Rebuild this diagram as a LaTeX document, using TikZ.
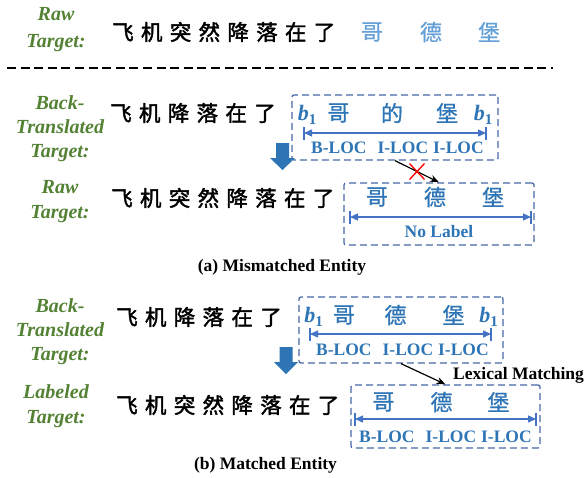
\documentclass[tikz,border=0pt]{standalone}
\usepackage{fontspec}
\setmainfont{Liberation Serif}
\newfontfamily\cjk[FakeBold=0.9]{Noto Sans CJK SC}
\newfontfamily\cjkb[FakeBold=1.8]{Noto Sans CJK SC}
\usetikzlibrary{arrows.meta}
\definecolor{lgreen}{RGB}{84,130,53}
\definecolor{eblue}{RGB}{46,117,182}
\definecolor{lblue}{RGB}{101,160,216}
\definecolor{boxblue}{RGB}{72,104,168}
\definecolor{ablue}{RGB}{68,114,196}
\definecolor{dblue}{RGB}{46,117,182}
\newcommand\gp{\hspace{7.3pt}}
\newcommand\bone{{\fontsize{22}{24}\selectfont\bfseries\itshape b}\raisebox{-4pt}{\fontsize{15}{16}\selectfont\bfseries 1}}
\tikzset{
  lab/.style={font=\fontsize{20}{#1}\selectfont\bfseries\itshape, text=lgreen, align=center, inner sep=0pt},
  zh/.style={font=\fontsize{21.5}{24}\cjkb, anchor=west, inner sep=0pt},
  ent/.style={font=\fontsize{22}{24}\cjk, text=eblue, inner sep=0pt},
  entl/.style={font=\fontsize{22}{24}\cjk, text=lblue, inner sep=0pt},
  bsym/.style={text=eblue, inner sep=0pt},
  ebox/.style={draw=boxblue, dash pattern=on 7pt off 4pt, line width=1.3pt, rounded corners=2pt, inner sep=0pt},
  tag/.style={font=\fontsize{17.5}{20}\selectfont\bfseries, text=eblue, inner sep=0pt},
  spanline/.style={draw=ablue, line width=1.3pt, {Triangle[length=8pt,width=7pt]}-{Triangle[length=8pt,width=7pt]}},
  spanbar/.style={draw=ablue, line width=1.2pt},
  capt/.style={font=\fontsize{17.5}{20}\selectfont\bfseries, inner sep=0pt},
  conn/.style={draw=black, line width=1.2pt, -{Stealth[length=9pt,width=7pt]}},
  bigdown/.style={fill=dblue},
  crossx/.style={draw=red, line width=1.3pt}
}
\begin{document}
\begin{tikzpicture}[x=1pt,y=-1pt]
\useasboundingbox (0,0) rectangle (584,477);

% top raw target
\node[lab=27] (L0) at (56,30) {Raw\\Target:};
\node[zh] (R0) at (112,32) {飞\gp 机\gp 突\gp 然\gp 降\gp 落\gp 在\gp 了};
\node[entl] (t1) at (372,32) {哥};
\node[entl] (t2) at (431,32) {德};
\node[entl] (t3) at (489,32) {堡};

\coordinate (sepL) at (7,68);
\coordinate (sepR) at (553,68);
\draw[line width=1.5pt, dash pattern=on 9pt off 4.6pt] (sepL) -- (sepR);

% (a) back-translated
\node[lab=24] (L1) at (60,128.5) {Back-\\Translated\\Target:};
\node[zh] (R1) at (110,113) {飞\gp 机\gp 降\gp 落\gp 在\gp 了};
\node[ebox, minimum width=206pt, minimum height=65pt] (A1) at (395,127.5) {};
\node[bsym] (a1b1) at (307,114.5) {\bone};
\node[ent] (a1c1) at (338.5,113) {哥};
\node[ent] (a1c2) at (392,113) {的};
\node[ent] (a1c3) at (447,113) {堡};
\node[bsym] (a1b2) at (483,114.5) {\bone};
\coordinate (A1l) at (304,133);
\coordinate (A1r) at (486,133);
\draw[spanline] (A1l) -- (A1r);
\draw[spanbar] ([yshift=6.5pt]A1l) -- ([yshift=-6.5pt]A1l);
\draw[spanbar] ([yshift=6.5pt]A1r) -- ([yshift=-6.5pt]A1r);
\node[tag, anchor=west] (la1) at (311,148) {B-LOC\hspace{11pt}I-LOC\hspace{5pt}I-LOC};

\fill[bigdown] (276,143) -- (289,143) -- (289,158) -- (295,158) -- (282.5,170) -- (270,158) -- (276,158) -- cycle;

% (a) raw target
\node[lab=25] (L2) at (60,202) {Raw\\Target:};
\node[zh] (R2) at (111,198) {飞\gp 机\gp 突\gp 然\gp 降\gp 落\gp 在\gp 了};
\node[ebox, minimum width=190pt, minimum height=62pt] (A2) at (439,214) {};
\node[ent] (a2c1) at (377,197) {哥};
\node[ent] (a2c2) at (435,197) {德};
\node[ent] (a2c3) at (493,197) {堡};
\coordinate (A2l) at (350,217);
\coordinate (A2r) at (531,217);
\draw[spanline] (A2l) -- (A2r);
\draw[spanbar] ([yshift=6.5pt]A2l) -- ([yshift=-6.5pt]A2l);
\draw[spanbar] ([yshift=6.5pt]A2r) -- ([yshift=-6.5pt]A2r);
\node[tag] (la2) at (439,232) {No Label};

\draw[conn] (A1.south) -- coordinate[pos=0.5] (X) (A2.north);
\draw[crossx] ([shift={(-7.5,-8)}]X) -- ([shift={(7.5,8)}]X);
\draw[crossx] ([shift={(-7.5,8)}]X) -- ([shift={(7.5,-8)}]X);

\node[capt] (capA) at (282,267) {(a) Mismatched Entity};

% (b) back-translated
\node[lab=24] (L3) at (60,332) {Back-\\Translated\\Target:};
\node[zh] (R3) at (116,317) {飞\gp 机\gp 降\gp 落\gp 在\gp 了};
\node[ebox, minimum width=204pt, minimum height=66pt] (B1) at (401,330) {};
\node[bsym] (b1b1) at (313.5,316.5) {\bone};
\node[ent] (b1c1) at (344,315) {哥};
\node[ent] (b1c2) at (395.5,315) {德};
\node[ent] (b1c3) at (453.5,315) {堡};
\node[bsym] (b1b2) at (488.5,316.5) {\bone};
\coordinate (B1l) at (310,334);
\coordinate (B1r) at (491,334);
\draw[spanline] (B1l) -- (B1r);
\draw[spanbar] ([yshift=6.5pt]B1l) -- ([yshift=-6.5pt]B1l);
\draw[spanbar] ([yshift=6.5pt]B1r) -- ([yshift=-6.5pt]B1r);
\node[tag, anchor=west] (lb1) at (316,350) {B-LOC\hspace{11pt}I-LOC\hspace{5pt}I-LOC};

\fill[bigdown] (279.5,347) -- (292.5,347) -- (292.5,362) -- (298,362) -- (286,374) -- (274,362) -- (279.5,362) -- cycle;

% (b) labeled target
\node[lab=25] (L4) at (56,406) {Labeled\\Target:};
\node[zh] (R4) at (116,405) {飞\gp 机\gp 突\gp 然\gp 降\gp 落\gp 在\gp 了};
\node[ebox, minimum width=189pt, minimum height=63pt] (B2) at (445.5,416.5) {};
\node[ent] (b2c1) at (383.5,402) {哥};
\node[ent] (b2c2) at (441.5,402) {德};
\node[ent] (b2c3) at (498.5,402) {堡};
\coordinate (B2l) at (355,419);
\coordinate (B2r) at (536,419);
\draw[spanline] (B2l) -- (B2r);
\draw[spanbar] ([yshift=6.5pt]B2l) -- ([yshift=-6.5pt]B2l);
\draw[spanbar] ([yshift=6.5pt]B2r) -- ([yshift=-6.5pt]B2r);
\node[tag, anchor=west] (lb2) at (359,437) {B-LOC\hspace{11pt}I-LOC\hspace{5pt}I-LOC};

\draw[conn] (B1.south) -- (B2.north);
\node[capt, anchor=west] (lex) at (453,375) {Lexical Matching};

\node[capt] (capB) at (265.5,465) {(b) Matched Entity};
\end{tikzpicture}
\end{document}
